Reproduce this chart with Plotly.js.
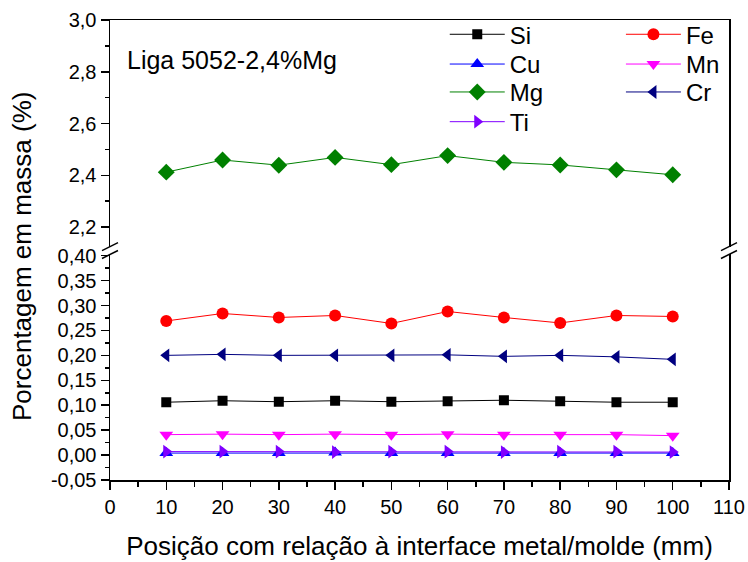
<!DOCTYPE html>
<html>
<head>
<meta charset="utf-8">
<script src="https://cdn.plot.ly/plotly-3.0.1.min.js"></script>
<style>html,body{margin:0;padding:0;background:#fff;}#chart{width:748px;height:562px;}</style>
</head>
<body>
<div id="chart"></div>
<script>
// ---- data ----
const positions = [10, 20, 30, 40, 50, 60, 70, 80, 90, 100];
const si = [0.106, 0.109, 0.107, 0.109, 0.107, 0.108, 0.110, 0.108, 0.106, 0.106];
const fe = [0.269, 0.284, 0.276, 0.280, 0.264, 0.288, 0.276, 0.265, 0.280, 0.278];
const cu = [0.004, 0.004, 0.004, 0.005, 0.004, 0.004, 0.004, 0.004, 0.004, 0.004];
const mn = [0.041, 0.042, 0.041, 0.042, 0.041, 0.042, 0.041, 0.041, 0.041, 0.039];
const mg = [2.412, 2.459, 2.439, 2.469, 2.441, 2.476, 2.450, 2.440, 2.421, 2.402];
const cr = [0.200, 0.202, 0.200, 0.200, 0.200, 0.201, 0.198, 0.200, 0.197, 0.192];
const ti = [0.007, 0.007, 0.007, 0.006, 0.007, 0.007, 0.006, 0.007, 0.007, 0.006];

const xTickVals = [0, 10, 20, 30, 40, 50, 60, 70, 80, 90, 100, 110];
const lowTickVals = [-0.05, 0, 0.05, 0.10, 0.15, 0.20, 0.25, 0.30, 0.35, 0.40];
const lowTickText = ['-0,05', '0,00', '0,05', '0,10', '0,15', '0,20', '0,25', '0,30', '0,35', '0,40'];
const highTickVals = [2.2, 2.4, 2.6, 2.8, 3.0];
const highTickText = ['2,2', '2,4', '2,6', '2,8', '3,0'];

const FONT = 'Arial, "Liberation Sans", sans-serif';

function series(name, y, color, symbol, size, legend, upper) {
  return {
    type: 'scatter', mode: 'lines+markers', name: name,
    x: positions, y: y,
    xaxis: upper ? 'x2' : 'x', yaxis: upper ? 'y2' : 'y',
    line: {color: color, width: 1},
    marker: {symbol: symbol, size: size, color: color, line: {width: 0}},
    legend: legend
  };
}

const traces = [
  series('Si', si, '#000000', 'square', 10, 'legend', false),
  series('Fe', fe, '#FF0000', 'circle', 12, 'legend2', false),
  series('Cu', cu, '#0000FF', 'triangle-up', 12, 'legend3', false),
  series('Mn', mn, '#FF00FF', 'triangle-down', 12, 'legend4', false),
  series('Mg', mg, '#008000', 'diamond', 13, 'legend5', true),
  series('Cr', cr, '#000080', 'triangle-left', 12, 'legend6', false),
  series('Ti', ti, '#8000FF', 'triangle-right', 12, 'legend7', false)
];

function leg(x, y) {
  return {x: x, y: y, xanchor: 'left', yanchor: 'middle', bgcolor: 'rgba(0,0,0,0)',
          borderwidth: 0, itemwidth: 55, font: {family: FONT, size: 24, color: '#000'}};
}
const c1 = 0.5408, c2 = 0.8254;
const r1 = 0.9681, r2 = 0.9034, r3 = 0.8427, r4 = 0.7781;

function brk(xp, yp) {
  return {type: 'line', xref: 'paper', yref: 'paper', xsizemode: 'pixel', ysizemode: 'pixel',
          xanchor: xp, yanchor: yp, x0: -8, x1: 8, y0: -4, y1: 4,
          line: {color: '#000', width: 1.5}};
}
const yUpBot = 0.5075, yLowTop = 0.4903;

const layout = {
  width: 748, height: 562,
  margin: {l: 110, r: 19, t: 15, b: 82},
  paper_bgcolor: '#fff', plot_bgcolor: '#fff',
  font: {family: FONT, color: '#000'},
  showlegend: true,
  xaxis: {
    domain: [0, 1], anchor: 'y', range: [0, 110],
    tickmode: 'array', tickvals: xTickVals,
    ticks: 'outside', ticklen: 8, tickwidth: 1.5, tickcolor: '#000',
    minor: {dtick: 5, tick0: 0, ticks: 'outside', ticklen: 5, tickwidth: 1.5, tickcolor: '#000'},
    showline: true, linecolor: '#000', linewidth: 1.5,
    showgrid: false, zeroline: false,
    tickfont: {family: FONT, size: 20, color: '#000'},
    title: {text: 'Posição com relação à interface metal/molde (mm)', font: {family: FONT, size: 26, color: '#000'}, standoff: 20}
  },
  xaxis2: {
    domain: [0, 1], anchor: 'y2', matches: 'x', side: 'top',
    showticklabels: false, ticks: '', showline: true, linecolor: '#000', linewidth: 1.5,
    showgrid: false, zeroline: false
  },
  yaxis: {
    domain: [0, yLowTop], anchor: 'x', range: [-0.05, 0.4024],
    tickmode: 'array', tickvals: lowTickVals, ticktext: lowTickText,
    ticks: 'outside', ticklen: 8, tickwidth: 1.5, tickcolor: '#000',
    minor: {dtick: 0.025, tick0: 0, ticks: 'outside', ticklen: 4, tickwidth: 1.5, tickcolor: '#000'},
    showline: true, mirror: true, linecolor: '#000', linewidth: 1.5,
    showgrid: false, zeroline: false,
    tickfont: {family: FONT, size: 20, color: '#000'}
  },
  yaxis2: {
    domain: [yUpBot, 1], anchor: 'x2', range: [2.1246, 3.0],
    tickmode: 'array', tickvals: highTickVals, ticktext: highTickText,
    ticks: 'outside', ticklen: 8, tickwidth: 1.5, tickcolor: '#000',
    minor: {dtick: 0.1, tick0: 0, ticks: 'outside', ticklen: 4, tickwidth: 1.5, tickcolor: '#000'},
    showline: true, mirror: true, linecolor: '#000', linewidth: 1.5,
    showgrid: false, zeroline: false,
    tickfont: {family: FONT, size: 20, color: '#000'}
  },
  legend: leg(c1, r1), legend3: leg(c1, r2), legend5: leg(c1, r3), legend7: leg(c1, r4),
  legend2: leg(c2, r1), legend4: leg(c2, r2), legend6: leg(c2, r3),
  annotations: [
    {text: 'Porcentagem em massa (%)', xref: 'paper', yref: 'paper', x: -0.142, y: 0.485,
     xanchor: 'center', yanchor: 'middle', textangle: -90, showarrow: false,
     font: {family: FONT, size: 26, color: '#000'}},
    {text: 'Liga 5052-2,4%Mg', xref: 'paper', yref: 'paper', x: 0.025, y: 0.912,
     xanchor: 'left', yanchor: 'middle', showarrow: false,
     font: {family: FONT, size: 25, color: '#000'}}
  ],
  shapes: [
    brk(0, yUpBot), brk(0, yLowTop), brk(1, yUpBot), brk(1, yLowTop)
  ]
};

Plotly.newPlot('chart', traces, layout, {displayModeBar: false, staticPlot: true});
</script>
</body>
</html>
